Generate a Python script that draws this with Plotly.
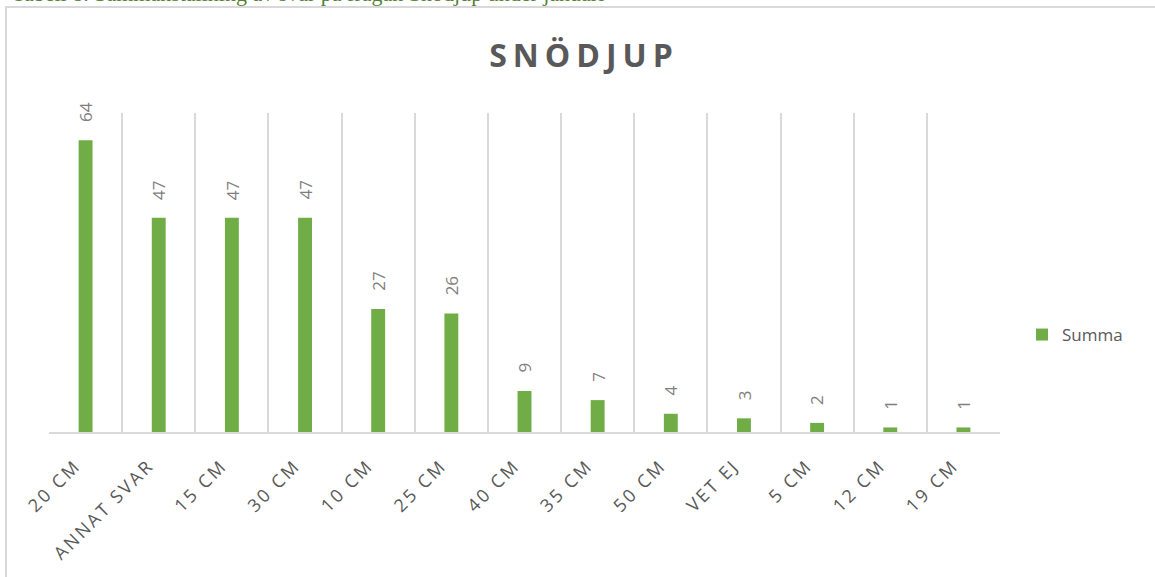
import plotly.graph_objects as go

categories = ["20 CM", "ANNAT SVAR", "15 CM", "30 CM", "10 CM", "25 CM", "40 CM",
              "35 CM", "50 CM", "VET EJ", "5 CM", "12 CM", "19 CM"]
values = [64, 47, 47, 47, 27, 26, 9, 7, 4, 3, 2, 1, 1]
series_name = "Summa"
chart_title = "SNÖDJUP"
caption = "Tabell 8. Sammanställning av svar på frågan Snödjup under januari"

GREEN = "#70ad47"
GRID = "#d9d9d9"
TXT = "#595959"
LBL = "#7f7f7f"
FONT = "Open Sans"

fig = go.Figure()
fig.add_trace(go.Bar(
    x=categories, y=values, name=series_name,
    marker=dict(color=GREEN, line=dict(width=0)),
    width=0.19, showlegend=True,
))

for c, v in zip(categories, values):
    fig.add_annotation(
        x=c, y=v, xref="x", yref="y", text=str(v), showarrow=False,
        textangle=-90, yanchor="bottom", xanchor="center", yshift=16,
        font=dict(family=FONT, size=17, color=LBL),
    )

# caption at the top (cut off by the page edge, as in the reference)
fig.add_annotation(
    xref="paper", yref="paper", x=(10 - 49) / 951, y=(432 - 8) / 319,
    xanchor="left", yanchor="bottom", text=caption, showarrow=False,
    font=dict(family="Liberation Serif", size=22, color="#538135"),
)

# chart border
fig.add_shape(type="rect", xref="paper", yref="paper",
              x0=(6 - 49) / 951, x1=(1200 - 49) / 951,
              y0=(432 - 620) / 319, y1=(432 - 7) / 319,
              line=dict(color=GRID, width=2), fillcolor="rgba(0,0,0,0)", layer="below")

fig.update_layout(
    width=1155, height=577,
    margin=dict(l=49, r=155, t=113, b=145),
    paper_bgcolor="white", plot_bgcolor="white",
    title=dict(text=chart_title, x=584 / 1155, xref="container", xanchor="center",
               y=1 - 56 / 577, yref="container", yanchor="middle",
               font=dict(family=FONT, size=32, color=TXT, weight="bold")),
    xaxis=dict(type="category", tickson="boundaries", showgrid=True, gridcolor=GRID,
               gridwidth=1.5, showline=True, linecolor=GRID, linewidth=2, ticks="",
               tickangle=-45, tickfont=dict(family=FONT, size=18, color=TXT),
               ticklabelstandoff=14, ticklabelshift=-10,
               range=[-0.5, 12.5], zeroline=False),
    yaxis=dict(range=[0, 70], showgrid=False, showticklabels=False, zeroline=False,
               showline=False, ticks=""),
    legend=dict(x=(1022 - 49) / 951, xanchor="left", y=(432 - 335) / 319, yanchor="middle",
                font=dict(family=FONT, size=17, color=TXT), bgcolor="rgba(0,0,0,0)"),
    bargap=0.81,
)

post = """
document.body.style.margin = '0';
document.body.style.padding = '0';
var gd = document.getElementById('{plot_id}');
function sp(){
  gd.querySelectorAll('.gtitle').forEach(function(e){e.style.letterSpacing='6px';});
  gd.querySelectorAll('.xtick text').forEach(function(e){e.style.letterSpacing='2.5px';});
}
sp();
gd.on('plotly_afterplot', sp);
"""
fig.write_html("out.html", post_script=post, config={"displayModeBar": False})
